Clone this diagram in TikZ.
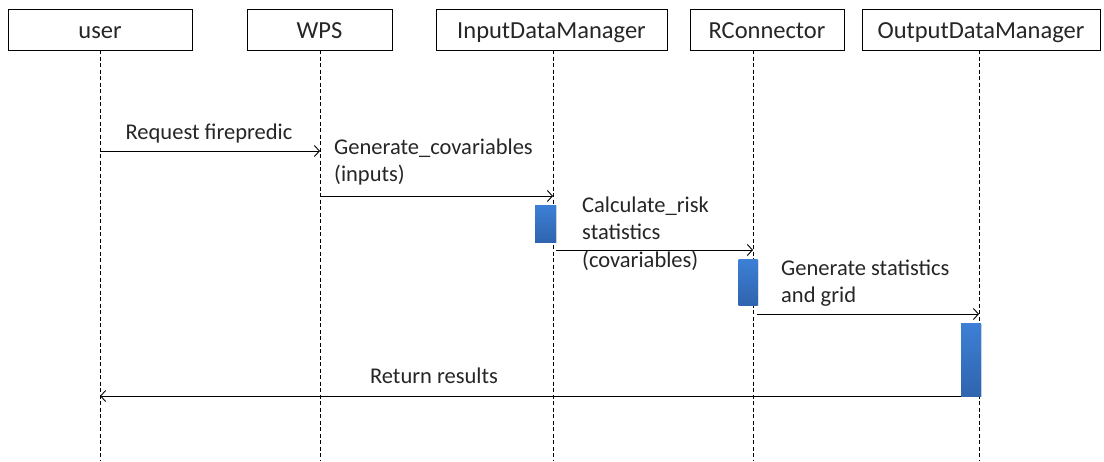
\documentclass[tikz,border=0pt]{standalone}
\usepackage{fontspec}
\setmainfont{Carlito}
\usetikzlibrary{arrows.meta,shadows}
\definecolor{actTop}{HTML}{3D80D6}
\definecolor{actBot}{HTML}{2F64AE}
\definecolor{txt}{HTML}{262626}
\begin{document}
\begin{tikzpicture}[x=1pt,y=-1pt,
  head/.style={draw=black,line width=0.9pt,rectangle,minimum height=41pt,inner sep=0pt,
    font=\fontsize{24.5}{28}\selectfont,text=txt,text height=17pt,text depth=0pt},
  life/.style={black,line width=0.9pt,dash pattern=on 4pt off 2.5pt},
  msg/.style={black,line width=0.9pt,-{Straight Barb[length=5pt,width=11pt,line width=0.9pt]}},
  lbl/.style={font=\fontsize{22.5}{27.5}\selectfont,text=txt,inner sep=0pt,align=left},
  act/.style={rectangle,inner sep=0pt,top color=actTop,bottom color=actBot,draw=none,
    drop shadow={opacity=0.25,shadow xshift=1.2pt,shadow yshift=-1.2pt}}]
\useasboundingbox (0,0) rectangle (1104,461);
\fill[white] (0,0) rectangle (1104,461);
% heads
\node[head,minimum width=184pt] (user) at (100,29.5) {user};
\node[head,minimum width=145pt] (wps) at (319.5,29.5) {WPS};
\node[head,minimum width=231pt] (idm) at (551.5,29.5) {InputDataManager};
\node[head,minimum width=154pt] (rc) at (767,29.5) {RConnector};
\node[head,minimum width=238pt] (odm) at (981,29.5) {OutputDataManager};
% lifelines
\coordinate (uT) at (100,50);  \coordinate (uB) at (100,461);
\coordinate (wT) at (320,50);  \coordinate (wB) at (320,461);
\coordinate (iT) at (553,50);  \coordinate (iB) at (553,461);
\coordinate (rT) at (753,50);  \coordinate (rB) at (753,461);
\coordinate (oT) at (979,50);  \coordinate (oB) at (979,461);
\draw[life] (uT) -- (uB);
\draw[life] (wT) -- (wB);
\draw[life] (iT) -- (iB);
\draw[life] (rT) -- (rB);
\draw[life] (oT) -- (oB);
% activations
\node[act,minimum width=21pt,minimum height=37pt] (a1) at (545.5,223.5) {};
\node[act,minimum width=19pt,minimum height=46pt] (a2) at (748,282) {};
\node[act,minimum width=20pt,minimum height=73pt] (a3) at (971,359.5) {};
% messages
\coordinate (m1s) at (100,151); \coordinate (m1e) at (320,151);
\coordinate (m2s) at (320,196); \coordinate (m2e) at (553,196);
\coordinate (m3s) at (556,250); \coordinate (m3e) at (753,250);
\coordinate (m4s) at (757,314); \coordinate (m4e) at (979,314);
\coordinate (m5s) at (961,396); \coordinate (m5e) at (100,396);
\draw[msg] (m1s) -- (m1e);
\draw[msg] (m2s) -- (m2e);
\draw[msg] (m3s) -- (m3e);
\draw[msg] (m4s) -- (m4e);
\draw[msg] (m5s) -- (m5e);
% labels
\node[lbl] (l1) at (209,133) {Request firepredic};
\node[lbl,anchor=west] (l2) at (334,162) {Generate\_covariables\\(inputs)};
\node[lbl,anchor=west] (l3) at (582,233.5) {Calculate\_risk\\statistics\\(covariables)};
\node[lbl,anchor=west] (l4) at (781,283) {Generate statistics\\and grid};
\node[lbl] (l5) at (434,376) {Return results};
\end{tikzpicture}
\end{document}
